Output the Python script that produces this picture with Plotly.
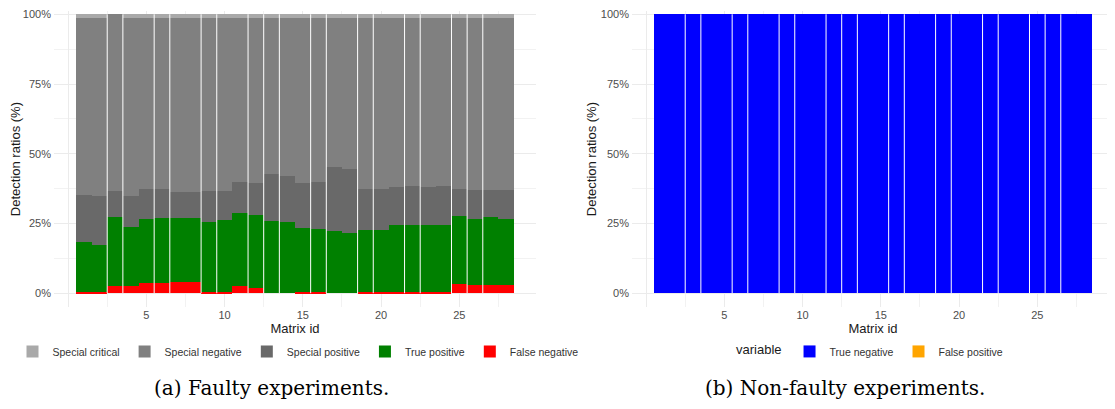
import plotly.graph_objects as go

# ---------------- data ----------------
matrix_ids = list(range(1, 29))

# Panel (a): faulty experiments, percentages per matrix (stack bottom -> top)
false_negative = [0.4, 0.3, 2.5, 2.7, 3.8, 3.8, 4.2, 4.2, 0.6, 0.6, 2.5, 1.8, 0.0, 0.0,
                  0.4, 0.4, 0.0, 0.0, 0.4, 0.4, 0.6, 0.6, 0.6, 0.6, 3.4, 3.1, 3.1, 3.1]
true_positive = [18.0, 17.0, 24.8, 21.0, 22.8, 23.0, 22.6, 22.6, 24.9, 25.6, 26.2, 26.4, 25.9, 25.5,
                 23.0, 22.6, 22.3, 21.6, 22.3, 22.3, 23.8, 23.8, 23.8, 23.8, 24.2, 23.5, 24.2, 23.5]
special_positive = [16.7, 17.5, 9.2, 11.1, 10.6, 10.4, 9.4, 9.4, 11.0, 10.3, 11.0, 11.2, 16.7, 16.7,
                    16.0, 16.7, 22.8, 23.1, 14.5, 14.5, 13.6, 13.9, 13.6, 13.9, 9.6, 10.3, 9.6, 10.3]
special_negative = [63.4, 63.7, 63.5, 63.7, 61.3, 61.3, 62.3, 62.3, 62.0, 62.0, 58.8, 59.1, 55.9, 56.3,
                    59.1, 58.8, 53.4, 53.8, 61.3, 61.3, 60.5, 60.2, 60.5, 60.2, 61.6, 61.6, 61.6, 61.6]
special_critical = [1.5, 1.5, 0.0, 1.5, 1.5, 1.5, 1.5, 1.5, 1.5, 1.5, 1.5, 1.5, 1.5, 1.5,
                    1.5, 1.5, 1.5, 1.5, 1.5, 1.5, 1.5, 1.5, 1.5, 1.5, 1.2, 1.5, 1.5, 1.5]

# Panel (b): non-faulty experiments
true_negative = [100, 100, 100, 100, 100, 100, 100, 100, 100, 100, 100, 100, 100, 100,
                 100, 100, 100, 100, 100, 100, 100, 100, 100, 100, 100, 100, 100, 100]
false_positive = [0, 0, 0, 0, 0, 0, 0, 0, 0, 0, 0, 0, 0, 0,
                  0, 0, 0, 0, 0, 0, 0, 0, 0, 0, 0, 0, 0, 0]

x_tick_values = [0, 5, 10, 15, 20, 25]
x_tick_labels = ["", "5", "10", "15", "20", "25"]
y_tick_values = [0, 25, 50, 75, 100]
y_tick_labels = ["0%", "25%", "50%", "75%", "100%"]

# ---------------- figure ----------------
# the page body has an 8px default margin, so the figure is laid out 8px in
OFF = 8
W, H = 1115 - OFF, 409 - OFF
SANS = "Liberation Sans, Arial, sans-serif"
SERIF = "DejaVu Serif, serif"

def px_x(p):
    return (p - OFF) / W

def px_y(p):
    return (H - (p - OFF)) / H

fig = go.Figure()

series_a = [
    ("False negative", false_negative, "#ff0000", 5),
    ("True positive", true_positive, "#008000", 4),
    ("Special positive", special_positive, "#696969", 3),
    ("Special negative", special_negative, "#808080", 2),
    ("Special critical", special_critical, "#a9a9a9", 1),
]
for name, vals, col, rank in series_a:
    fig.add_trace(go.Bar(
        x=matrix_ids, y=vals, name=name, width=1,
        marker=dict(color=col, line=dict(width=0)),
        legendrank=rank, legend="legend", xaxis="x", yaxis="y",
    ))

series_b = [
    ("True negative", true_negative, "#0000ff", 1),
    ("False positive", false_positive, "#ffa500", 2),
]
for name, vals, col, rank in series_b:
    fig.add_trace(go.Bar(
        x=matrix_ids, y=vals, name=name, width=1,
        marker=dict(color=col, line=dict(width=0)),
        legendrank=rank, legend="legend2", xaxis="x2", yaxis="y2",
    ))

# thin white seams visible between some adjacent bars in the original rendering
seams = [2.5, 3.5, 5.5, 6.5, 8.5, 9.5, 11.5, 12.5, 13.5, 15.5, 16.5,
         18.5, 19.5, 21.5, 22.5, 24.5, 25.5, 26.5]
shapes = []
for xr, yr in (("x", "y"), ("x2", "y2")):
    for s in seams:
        shapes.append(dict(type="line", xref=xr, yref=yr, x0=s, x1=s, y0=0, y1=100,
                           line=dict(color="white", width=1), layer="above"))

ydom = [px_y(306.4), 1.0]
y_top_value = 100 + (11.3 - OFF) / 2.81

def xaxis_cfg(domain, anchor):
    return dict(
        domain=domain, anchor=anchor, range=[-0.9, 29.9],
        tickmode="array", tickvals=x_tick_values, ticktext=x_tick_labels,
        showgrid=True, gridcolor="#ebebeb", gridwidth=1,
        minor=dict(tickmode="array", tickvals=[2.5, 7.5, 12.5, 17.5, 22.5, 27.5],
                   showgrid=True, gridcolor="#f2f2f2", gridwidth=1),
        zeroline=False, showline=False, ticks="",
        tickfont=dict(family=SANS, size=11, color="#4d4d4d"),
        title=dict(text="Matrix id", font=dict(family=SANS, size=13, color="#1a1a1a"), standoff=1),
    )

def yaxis_cfg(anchor):
    return dict(
        domain=ydom, anchor=anchor, range=[-5, y_top_value],
        tickmode="array", tickvals=y_tick_values, ticktext=y_tick_labels,
        showgrid=True, gridcolor="#ebebeb", gridwidth=1,
        minor=dict(tickmode="array", tickvals=[12.5, 37.5, 62.5, 87.5],
                   showgrid=True, gridcolor="#f2f2f2", gridwidth=1),
        zeroline=False, showline=False, ticks="", ticklabelstandoff=2,
        ticklabeloverflow="allow",
        tickfont=dict(family=SANS, size=11, color="#4d4d4d"),
        title=dict(text="Detection ratios (%)", font=dict(family=SANS, size=13, color="#1a1a1a"), standoff=1),
    )

fig.update_layout(
    width=W, height=H, autosize=False,
    margin=dict(l=0, r=0, t=0, b=0),
    paper_bgcolor="white", plot_bgcolor="white",
    barmode="stack", bargap=0,
    xaxis=xaxis_cfg([px_x(54), px_x(536)], "y"),
    yaxis=yaxis_cfg("x"),
    xaxis2=xaxis_cfg([px_x(632), px_x(1114)], "y2"),
    yaxis2=yaxis_cfg("x2"),
    legend=dict(orientation="h", x=px_x(298), xanchor="center", y=px_y(351), yanchor="middle",
                font=dict(family=SANS, size=10.5, color="#333333"), bgcolor="rgba(0,0,0,0)",
                traceorder="normal"),
    legend2=dict(orientation="h", x=px_x(871), xanchor="center", y=px_y(351), yanchor="middle",
                 font=dict(family=SANS, size=10.5, color="#333333"), bgcolor="rgba(0,0,0,0)",
                 title=dict(text="variable", side="left", font=dict(family=SANS, size=13, color="#1a1a1a")),
                 traceorder="normal"),
    shapes=shapes,
    annotations=[
        dict(text="(a) Faulty experiments.", x=px_x(271), y=px_y(388), xref="paper", yref="paper",
             xanchor="center", yanchor="middle", showarrow=False,
             font=dict(family=SERIF, size=20, color="black")),
        dict(text="(b) Non-faulty experiments.", x=px_x(845), y=px_y(388), xref="paper", yref="paper",
             xanchor="center", yanchor="middle", showarrow=False,
             font=dict(family=SERIF, size=20, color="black")),
    ],
)

fig.write_html("out.html")
